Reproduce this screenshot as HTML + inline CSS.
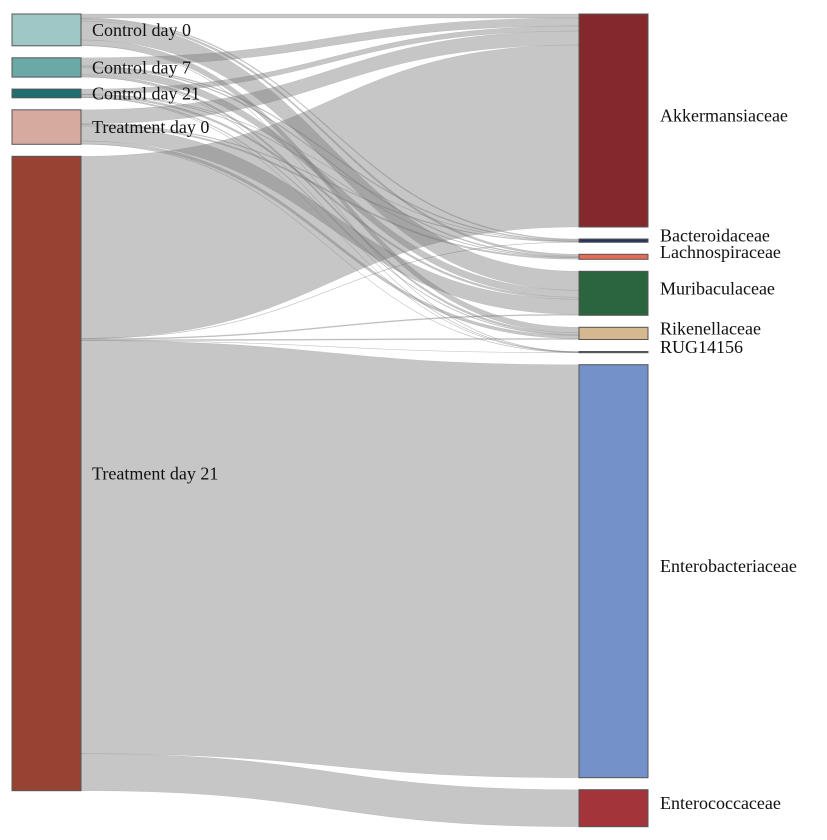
<!DOCTYPE html>
<html><head><meta charset="utf-8"><style>
body{margin:0;background:#fff}
svg text{font-family:"Liberation Serif","Times New Roman",serif;font-size:18px;fill:#111}
</style></head><body>
<svg id="chart" width="827" height="835" xmlns="http://www.w3.org/2000/svg">
<g id="links"></g>
<g id="nodes"></g>
</svg>
<script>
const sources = ["Control day 0","Control day 7","Control day 21","Treatment day 0","Treatment day 21"];
const sourceColors = ["#9fc7c5","#6aa9a5","#1f6e70","#d6aa9f","#974232"];
const targets = ["Akkermansiaceae","Bacteroidaceae","Lachnospiraceae","Muribaculaceae","Rikenellaceae","RUG14156","Enterobacteriaceae","Enterococcaceae"];
const targetColors = ["#84282c","#27335f","#e76a56","#2b6540","#d5b790","#4c7a3a","#7491c9","#a2343a"];
// flows: rows = sources, columns = targets
const flowC0  = [4, 1, 2, 19, 5.5, 0.3, 0, 0];
const flowC7  = [8, 1, 1, 7, 2, 0.3, 0, 0];
const flowC21 = [5, 0.3, 0.5, 2, 0.7, 0.2, 0, 0];
const flowT0  = [14, 0.7, 1.5, 15, 3, 0.3, 0, 0];
const flowT21 = [182, 0.3, 0, 1, 1, 0.1, 413, 37];
const flows = [flowC0, flowC7, flowC21, flowT0, flowT21];

const NS="http://www.w3.org/2000/svg";
const top0=14, pad=12, scale=1.0, leftX=12, rightX=579, nodeW=69;
const linkG=document.getElementById('links'), nodeG=document.getElementById('nodes');
const srcTot=sources.map((s,i)=>flows[i].reduce((a,b)=>a+b,0));
const tgtTot=targets.map((t,j)=>flows.reduce((a,r)=>a+r[j],0));
function layout(tots){let y=top0;return tots.map(v=>{const h=Math.max(v*scale,1);const o={y:y,h:h};y+=h+pad;return o;});}
const sPos=layout(srcTot), tPos=layout(tgtTot);
const sOff=sPos.map(p=>p.y), tOff=tPos.map(p=>p.y);
const x0=leftX+nodeW, x1=rightX, xm=(x0+x1)/2;
for(let i=0;i<sources.length;i++){
  for(let j=0;j<targets.length;j++){
    const v=flows[i][j]; if(v<=0) continue;
    const h=v*scale;
    const sy=sOff[i]; sOff[i]+=h;
    const ty=tOff[j]; tOff[j]+=h;
    const p=document.createElementNS(NS,'path');
    p.setAttribute('d',`M${x0},${sy} C${xm},${sy} ${xm},${ty} ${x1},${ty} L${x1},${ty+h} C${xm},${ty+h} ${xm},${sy+h} ${x0},${sy+h} Z`);
    p.setAttribute('fill','rgba(120,120,120,0.42)');
    p.setAttribute('stroke','rgba(110,110,110,0.3)');
    p.setAttribute('stroke-width','0.4');
    
    
    linkG.appendChild(p);
  }
}
function node(x,pos,color,label,isLeft,idx){
  const r=document.createElementNS(NS,'rect');
  r.setAttribute('x',x);r.setAttribute('y',pos.y);r.setAttribute('width',nodeW);r.setAttribute('height',pos.h);
  r.setAttribute('fill',color);r.setAttribute('stroke','#555');r.setAttribute('stroke-width','1');
  
  
  nodeG.appendChild(r);
  const t=document.createElementNS(NS,'text');
  t.setAttribute('x',isLeft?92:660);
  t.setAttribute('y',pos.y+pos.h/2+(isLeft?6:1));
  t.textContent=label;
  
  
  nodeG.appendChild(t);
}
sources.forEach((s,i)=>node(leftX,sPos[i],sourceColors[i],s,true,i));
targets.forEach((s,j)=>node(rightX,tPos[j],targetColors[j],s,false,j));
</script>
</body></html>
